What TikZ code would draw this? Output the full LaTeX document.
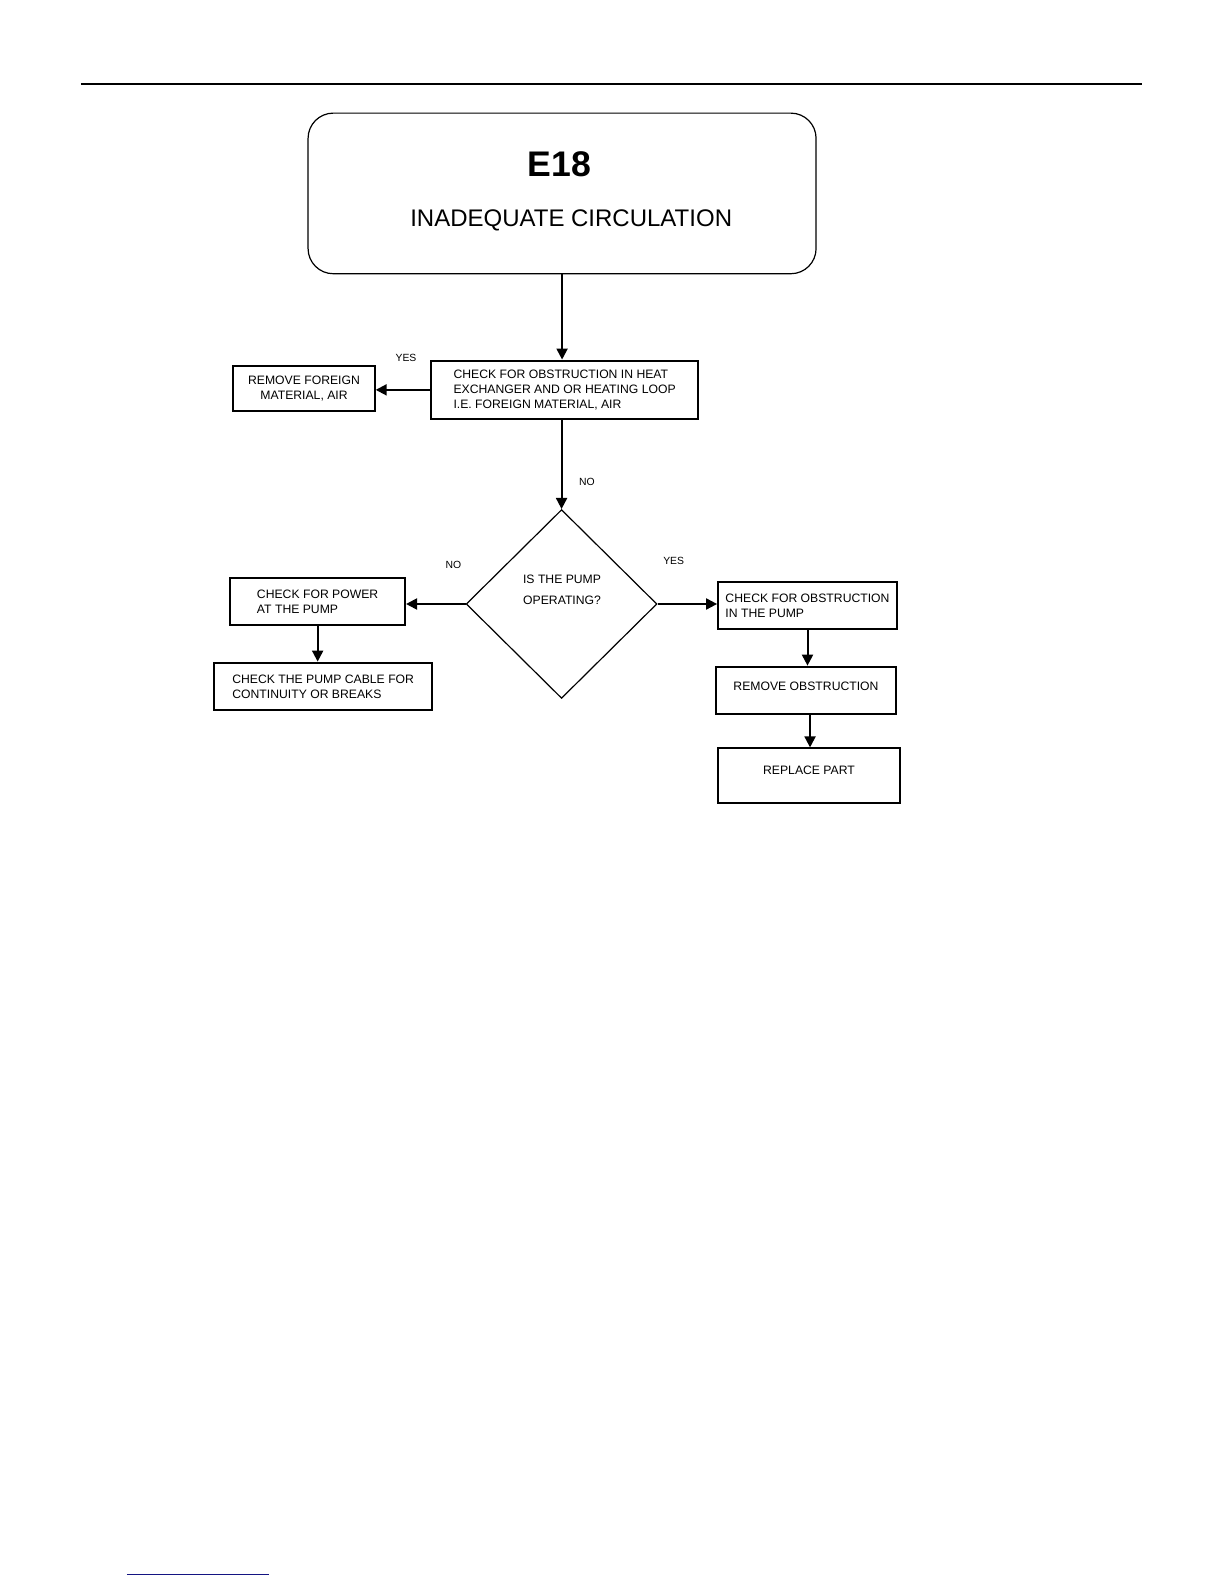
\documentclass[tikz,border=0pt]{standalone}
\usepackage{fontspec}
\setmainfont{Liberation Sans}
\usetikzlibrary{arrows.meta,shapes.geometric}
\tikzset{
	flowbox/.style={draw, line width=1pt, rectangle, inner ysep=0pt, inner xsep=2pt,
			font=\fontsize{6.1}{7.5}\selectfont},
	answer/.style={font=\fontsize{5.2}{6}\selectfont, inner sep=0pt},
	flowarrow/.style={line width=1pt, -{Triangle[length=5.5pt,width=5.5pt]}}
}

\begin{document}
\begin{tikzpicture}[x=0.505pt, y=-0.505pt]
        \useasboundingbox (0, 0) rectangle (1212, 1568.3);
        \coordinate (rule_L) at (80, 83);
        \coordinate (rule_R) at (1131, 83);
        \draw[line width=0.7pt] (rule_L) -- (rule_R);
        \coordinate (link_L) at (125.5, 1559);
        \coordinate (link_R) at (266, 1559);
        \draw[line width=0.6pt, color={rgb,255:red,20;green,20;blue,130}] (link_L) -- (link_R);
        \node[draw, line width=0.6pt, rounded corners=12.6pt, minimum width=254pt, minimum height=80.3pt] (e18_box) at (556.5, 191.5) {};
        \node[font=\fontsize{17.8}{20}\selectfont\bfseries, inner sep=0pt] (e18_code) at (554, 163) {E18};
        \node[font=\fontsize{12}{14}\selectfont, inner sep=0pt] (e18_title) at (565.5, 218) {INADEQUATE CIRCULATION};
        \node[flowbox, align=left, minimum width=133.3pt, minimum height=29.3pt] (check_HX) at (559, 386) {CHECK FOR OBSTRUCTION IN HEAT\\EXCHANGER AND OR HEATING LOOP\\I.E. FOREIGN MATERIAL, AIR};
        \node[flowbox, align=center, minimum width=70.7pt, minimum height=22.7pt] (remove_fm) at (301, 384.5) {REMOVE FOREIGN\\MATERIAL, AIR};
        \node[draw, diamond, line width=0.6pt, minimum width=95.4pt, minimum height=94.4pt, inner sep=0pt] (pump_q) at (556, 598) {};
        \node[font=\fontsize{6.1}{10.5}\selectfont, align=center, inner sep=0pt] (pump_q_text) at (556.5, 584) {IS THE PUMP\\OPERATING?};
        \node[flowbox, align=left, minimum width=87.4pt, minimum height=23.7pt] (power_box) at (314.5, 595.5) {CHECK FOR POWER\\AT THE PUMP};
        \node[flowbox, align=left, minimum width=109.1pt, minimum height=23.7pt] (cable_box) at (320, 679.5) {CHECK THE PUMP CABLE FOR\\CONTINUITY OR BREAKS};
        \node[flowbox, align=left, minimum width=89.4pt, minimum height=23.7pt] (pump_obs) at (799.5, 599.5) {CHECK FOR OBSTRUCTION\\IN THE PUMP};
        \node[flowbox, align=center, minimum width=89.9pt, minimum height=23.7pt, text depth=4.5pt] (remove_obs) at (798, 683.5) {REMOVE OBSTRUCTION};
        \node[flowbox, align=center, minimum width=90.9pt, minimum height=27.3pt, text depth=5pt] (replace_part) at (801, 768) {REPLACE PART};
        \draw[flowarrow] (e18_box.south) -- (e18_box.south |- check_HX.north);
        \draw[flowarrow] (check_HX.west) -- (check_HX.west -| remove_fm.east);
        \draw[flowarrow] (check_HX.south -| pump_q.north) -- (pump_q.north);
        \draw[flowarrow] (pump_q.west) -- (pump_q.west -| power_box.east);
        \draw[flowarrow] (pump_q.east) -- (pump_q.east -| pump_obs.west);
        \draw[flowarrow] (power_box.south) -- (power_box.south |- cable_box.north);
        \draw[flowarrow] (pump_obs.south) -- (pump_obs.south |- remove_obs.north);
        \draw[flowarrow] (remove_obs.south) ++(4, 0) coordinate (remove_obs_out) -- (remove_obs_out |- replace_part.north);
        \node[answer] (yes_HX) at (402, 354) {YES};
        \node[answer] (no_HX) at (581, 477) {NO};
        \node[answer] (no_pump) at (449, 559) {NO};
        \node[answer] (yes_pump) at (667, 555) {YES};
    \end{tikzpicture}
\end{document}
